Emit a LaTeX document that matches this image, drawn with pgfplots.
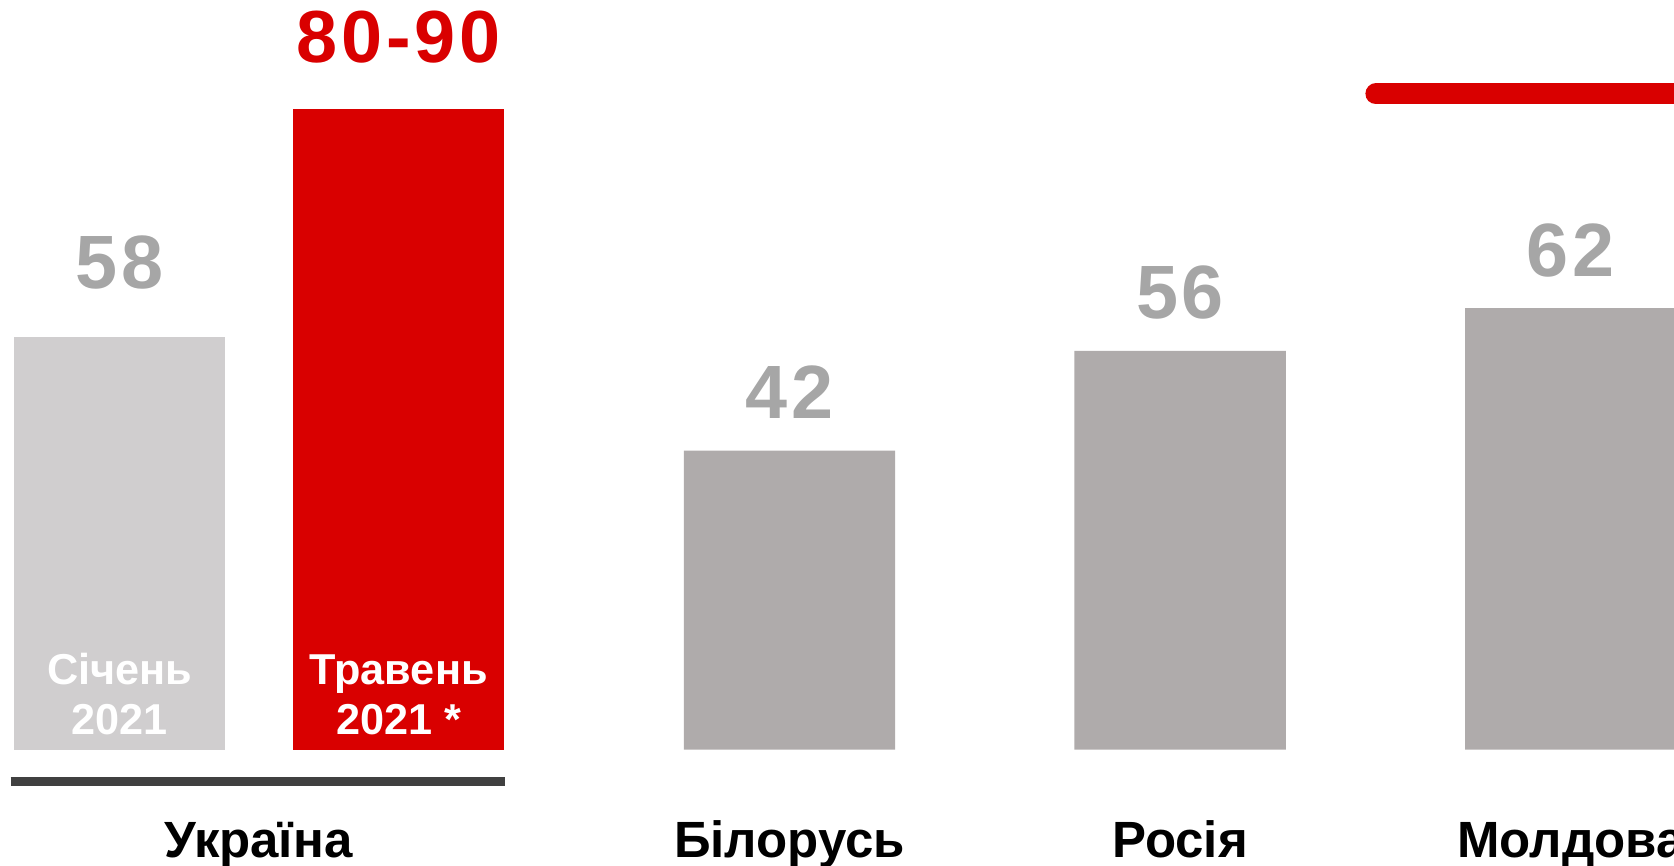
\documentclass[border=0pt]{standalone}
\usepackage{pgfplots}
\pgfplotsset{compat=1.18}
\usepackage{fontspec}
\setmainfont{Liberation Sans}
\newfontfamily\valfont[LetterSpace=5]{Liberation Sans}
\definecolor{ured}{HTML}{D90000}
\definecolor{lgray}{HTML}{D0CECF}
\definecolor{mgray}{HTML}{AFABAB}
\definecolor{vgray}{HTML}{A6A6A6}
\definecolor{dline}{HTML}{404040}
\begin{document}
\begin{tikzpicture}
\begin{axis}[
  scale only axis, width=167.4mm, height=86.6mm,
  xmin=-0.0205, xmax=4.264, ymin=-16.36, ymax=105.3,
  axis line style={draw=none}, ytick=\empty,
  /pgf/number format/assume math mode=true,
  xtick={0.6407,2,3,4},
  xticklabels={Україна,Білорусь,Росія,Молдова},
  major tick length=0pt,
  xticklabel style={anchor=base, yshift=0.9mm, inner sep=0pt,
    font=\bfseries\fontsize{14.5}{17}\selectfont},
  ybar, bar width=0.541, bar shift=0pt,
  nodes near coords,
  every node near coord/.append style={anchor=base, yshift=9.1pt, inner sep=0pt,
    font=\valfont\bfseries\fontsize{21.5}{26}\selectfont, text=vgray},
]
\addplot[fill=lgray, draw=none, every node near coord/.append style={yshift=4.5pt}] coordinates {(0.2855,58)};
\addplot[fill=ured, draw=none, point meta=explicit symbolic,
  every node near coord/.append style={text=ured, yshift=4.2pt, font=\valfont\bfseries\fontsize{21}{26}\selectfont}] coordinates {(1,90)[80-90]};
\addplot[fill=mgray, draw=none] coordinates {(2,42) (3,56) (4,62)};
\node[anchor=south, inner sep=0pt, align=center, text=white,
  font=\bfseries\fontsize{12.3}{14.3}\selectfont] at (axis cs:0.2855,1.95) {Січень\\2021};
\node[anchor=south, inner sep=0pt, align=center, text=white,
  font=\bfseries\fontsize{12.3}{14.3}\selectfont] at (axis cs:1,1.95) {Травень\\2021 *};
\draw[dline, line width=0.9mm] (axis cs:0.0069,-4.51) -- (axis cs:1.272,-4.51);
\draw[ured, line width=2.1mm, line cap=round] (axis cs:3.501,92.1) -- (axis cs:4.5,92.1);
\end{axis}
\pgfresetboundingbox
\path[use as bounding box] (current axis.south west) rectangle (current axis.north east);
\end{tikzpicture}
\end{document}
